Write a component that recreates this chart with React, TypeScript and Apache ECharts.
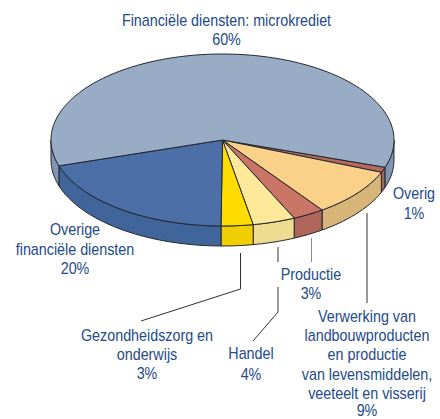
import React, { useEffect, useRef } from "react";
import * as echarts from "echarts";

const categories = [
  "Overig",
  "Verwerking van landbouwproducten en productie van levensmiddelen, veeteelt en visserij",
  "Productie",
  "Handel",
  "Gezondheidszorg en onderwijs",
  "Overige financiële diensten",
  "Financiële diensten: microkrediet",
];
const shares = [1, 9, 3, 4, 3, 20, 60];
const topColors = ["#b5685c", "#fbd088", "#ca7566", "#fee99a", "#ffdc00", "#4b6fa6", "#98adc5"];
const sideColors = ["#a9635a", "#d7b478", "#b0655a", "#eedd90", "#f0cf00", "#41659b", "#7e96b3"];

const labelBlocks = [
  { x: 226.5, lines: ["Financiële diensten: microkrediet", "60%"], ys: [20, 39] },
  { x: 75, lines: ["Overige", "financiële diensten", "20%"], ys: [229, 249, 268] },
  { x: 414, lines: ["Overig", "1%"], ys: [193, 213] },
  { x: 311, lines: ["Productie", "3%"], ys: [274, 293] },
  { x: 147, lines: ["Gezondheidszorg en", "onderwijs", "3%"], ys: [335, 354, 373] },
  { x: 251, lines: ["Handel", "4%"], ys: [353, 374] },
  {
    x: 367,
    lines: ["Verwerking van", "landbouwproducten", "en productie", "van levensmiddelen,", "veeteelt en visserij", "9%"],
    ys: [316, 335, 354, 374, 393, 410],
  },
];

const leaders = [
  { points: [[240.5, 253], [240.5, 289], [141, 321]], color: "#333333" },
  { points: [[278, 247], [278, 262]], color: "#333333" },
  { points: [[278, 287], [278, 312], [253, 341]], color: "#333333" },
  { points: [[311.5, 238], [311.5, 262]], color: "#8a8a8a" },
  { points: [[367, 213], [367, 303]], color: "#333333" },
];

const CX = 222.5;
const CY = 140;
const RX = 171.5;
const RY = 86;
const DEPTH = 20;
const START_DEG = 18.5;
const EDGE = "#23272e";

const pt = (deg: number, dy = 0): number[] => {
  const r = (deg * Math.PI) / 180;
  return [CX + RX * Math.cos(r), CY + RY * Math.sin(r) + dy];
};

const arc = (a: number, b: number, dy = 0): number[][] => {
  const n = Math.max(2, Math.ceil(Math.abs(b - a) / 1.5));
  const out: number[][] = [];
  for (let i = 0; i <= n; i++) out.push(pt(a + ((b - a) * i) / n, dy));
  return out;
};

const sideRange = (a: number, b: number): number[][] => {
  // visible front wall: screen angles 0..180 (also 360..540)
  const ranges: number[][] = [];
  for (const [lo, hi] of [[0, 180], [360, 540]]) {
    const s = Math.max(a, lo);
    const e = Math.min(b, hi);
    if (e > s) ranges.push([s, e]);
  }
  return ranges;
};

const renderSlice = (params: any, api: any) => {
  const idx = params.dataIndex;
  const total = shares.reduce((p, c) => p + c, 0);
  const before = shares.slice(0, idx).reduce((p, c) => p + c, 0);
  const a = START_DEG + (before / total) * 360;
  const b = a + (api.value(0) / total) * 360;
  const children: any[] = [];
  for (const [s, e] of sideRange(a, b)) {
    children.push({
      type: "polygon",
      shape: { points: [...arc(s, e), ...arc(e, s, DEPTH)] },
      style: { fill: sideColors[idx], stroke: EDGE, lineWidth: 1, lineJoin: "round" },
    });
  }
  children.push({
    type: "polygon",
    shape: { points: [[CX, CY], ...arc(a, b)] },
    style: { fill: topColors[idx], stroke: EDGE, lineWidth: 1, lineJoin: "round" },
  });
  return { type: "group", children };
};

export default function App() {
  const ref = useRef<HTMLDivElement>(null);
  useEffect(() => {
    const chart = echarts.init(ref.current!, undefined, { renderer: "svg" });
    const texts: any[] = [];
    labelBlocks.forEach((b) =>
      b.lines.forEach((line, i) =>
        texts.push({
          type: "text",
          x: b.x,
          y: b.ys[i],
          scaleX: 0.895,
          style: {
            text: line,
            align: "center",
            verticalAlign: "middle",
            fill: "#234a8c",
            font: '16px "Liberation Sans", sans-serif',
          },
        })
      )
    );
    const lines = leaders.map((l) => ({
      type: "polyline",
      shape: { points: l.points },
      style: { fill: "none", stroke: l.color, lineWidth: 1 },
    }));
    chart.setOption({
      animation: false,
      backgroundColor: "#ffffff",
      series: [
        {
          type: "custom",
          coordinateSystem: "none",
          renderItem: renderSlice,
          data: shares.map((v, i) => ({ name: categories[i], value: [v] })),
        },
      ],
      graphic: { elements: [...lines, ...texts] },
    });
    return () => chart.dispose();
  }, []);
  return <div ref={ref} style={{ position: "fixed", left: 0, top: 0, width: 440, height: 419 }} />;
}
